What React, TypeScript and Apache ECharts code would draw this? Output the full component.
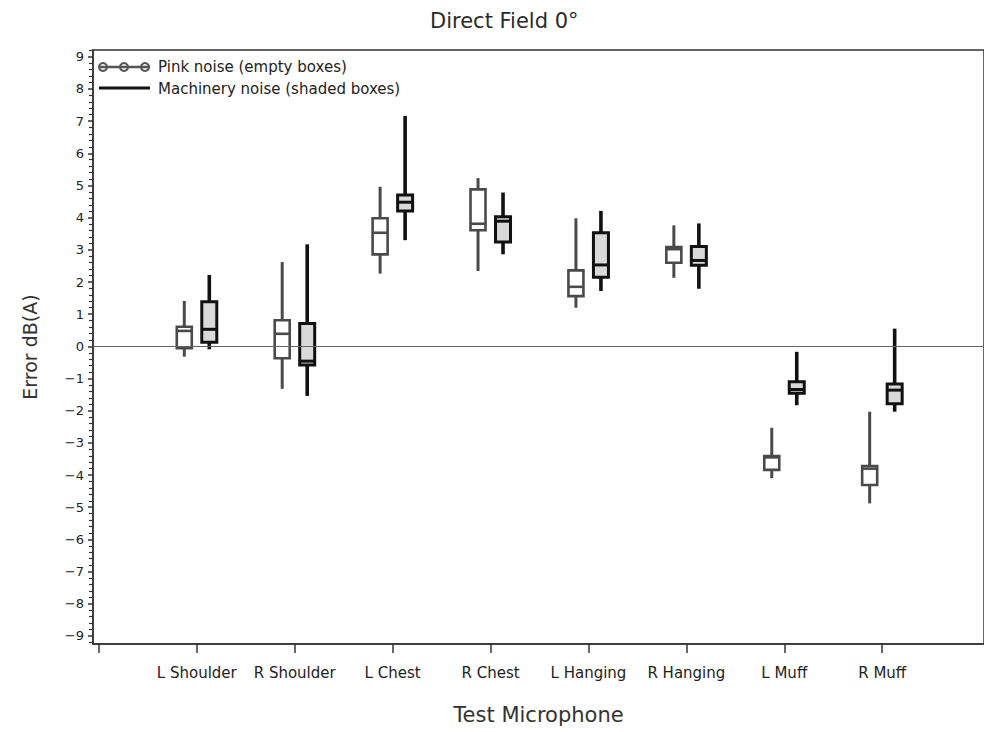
import React, { useEffect, useRef } from "react";
import * as echarts from "echarts";

const categories = ["L Shoulder", "R Shoulder", "L Chest", "R Chest", "L Hanging", "R Hanging", "L Muff", "R Muff"];

// [min, q1, median, q3, max]
const pinkNoise = [
  [-0.32, -0.06, 0.48, 0.61, 1.41],
  [-1.32, -0.37, 0.39, 0.81, 2.62],
  [2.26, 2.86, 3.53, 3.98, 4.96],
  [2.34, 3.61, 3.81, 4.88, 5.23],
  [1.2, 1.56, 1.85, 2.36, 3.98],
  [2.13, 2.6, 3.02, 3.09, 3.76],
  [-4.1, -3.84, -3.45, -3.41, -2.53],
  [-4.88, -4.31, -3.8, -3.72, -2.03],
];

const machineryNoise = [
  [-0.09, 0.13, 0.53, 1.39, 2.22],
  [-1.54, -0.58, -0.46, 0.71, 3.17],
  [3.3, 4.21, 4.48, 4.7, 7.16],
  [2.86, 3.24, 3.89, 4.03, 4.78],
  [1.72, 2.15, 2.53, 3.53, 4.21],
  [1.79, 2.52, 2.67, 3.1, 3.82],
  [-1.83, -1.46, -1.34, -1.1, -0.17],
  [-2.03, -1.78, -1.36, -1.17, 0.55],
];

const yMajorTicks = [-9, -8, -7, -6, -5, -4, -3, -2, -1, 0, 1, 2, 3, 4, 5, 6, 7, 8, 9];
const xTicks = [0, 1, 2, 3, 4, 5, 6, 7, 8];
const xLabelValues = [1, 2, 3, 4, 5, 6, 7, 8];

const FONT = "'DejaVu Sans', 'Liberation Sans', Arial, sans-serif";

function makeRender(offset: number, stroke: string, fill: string, boxLW: number, whiskerLW: number) {
  return (params: any, api: any) => {
    const x = api.value(0);
    const pMin = api.coord([x, api.value(1)]);
    const pQ1 = api.coord([x, api.value(2)]);
    const pMed = api.coord([x, api.value(3)]);
    const pQ3 = api.coord([x, api.value(4)]);
    const pMax = api.coord([x, api.value(5)]);
    const cx = pMin[0] + offset;
    const half = 7.5;
    return {
      type: "group",
      children: [
        {
          type: "line",
          shape: { x1: cx, y1: pMin[1], x2: cx, y2: pQ1[1] },
          style: { stroke, lineWidth: whiskerLW },
        },
        {
          type: "line",
          shape: { x1: cx, y1: pQ3[1], x2: cx, y2: pMax[1] },
          style: { stroke, lineWidth: whiskerLW },
        },
        {
          type: "rect",
          shape: { x: cx - half, y: pQ3[1], width: half * 2, height: pQ1[1] - pQ3[1] },
          style: { stroke, lineWidth: boxLW, fill },
        },
        {
          type: "line",
          shape: { x1: cx - half, y1: pMed[1], x2: cx + half, y2: pMed[1] },
          style: { stroke, lineWidth: boxLW },
        },
      ],
    };
  };
}

export default function App() {
  const ref = useRef<HTMLDivElement>(null);

  useEffect(() => {
    if (!ref.current) return;
    const chart = echarts.init(ref.current, undefined, { renderer: "svg" });

    const pinkData = pinkNoise.map((d, i) => [i + 1, ...d]);
    const machData = machineryNoise.map((d, i) => [i + 1, ...d]);

    const minorTicks: number[] = [];
    for (let k = -46; k <= 46; k++) {
      if (k % 5 !== 0) minorTicks.push(k / 5);
    }

    const option: any = {
      animation: false,
      backgroundColor: "#ffffff",
      textStyle: { fontFamily: FONT },
      title: {
        text: "Direct Field 0°",
        left: 425,
        top: 5,
        textStyle: { fontFamily: FONT, fontSize: 21, fontWeight: "normal", color: "#2a2a2a" },
      },
      grid: {
        left: 93,
        top: 50,
        bottom: 88,
        right: -5,
        show: true,
        borderColor: "#333",
        borderWidth: 1.5,
        backgroundColor: "transparent",
      },
      xAxis: {
        type: "value",
        min: -0.06,
        max: 9.04,
        name: "Test Microphone",
        nameLocation: "middle",
        nameGap: 60,
        nameTextStyle: { fontFamily: FONT, fontSize: 21, color: "#333" },
        axisLine: { show: true, onZero: false, lineStyle: { color: "#333", width: 1.5 } },
        axisTick: { show: true, customValues: xTicks, length: 9, inside: false, lineStyle: { color: "#333", width: 1.5 } },
        axisLabel: {
          customValues: xLabelValues,
          formatter: (v: number) => categories[Math.round(v) - 1] || "",
          margin: 21,
          fontSize: 15,
          color: "#222",
          fontFamily: FONT,
        },
        splitLine: { show: false },
      },
      yAxis: [
        {
          type: "value",
          min: -9.25,
          max: 9.21,
          position: "left",
          name: "Error dB(A)",
          nameLocation: "middle",
          nameRotate: 90,
          nameGap: 54,
          nameTextStyle: { fontFamily: FONT, fontSize: 19, color: "#333" },
          axisLine: { show: true, onZero: false, lineStyle: { color: "#333", width: 1.5 } },
          axisTick: { show: true, customValues: yMajorTicks, length: 5, inside: false, lineStyle: { color: "#333", width: 1.5 } },
          axisLabel: {
            customValues: yMajorTicks,
            formatter: (v: number) => (v < 0 ? "\u2212" + Math.abs(v) : String(v)),
            margin: 9,
            fontSize: 13,
            color: "#222",
            fontFamily: FONT,
          },
          splitLine: { show: false },
        },
        {
          type: "value",
          min: -9.25,
          max: 9.21,
          position: "left",
          axisLine: { show: false, onZero: false },
          axisTick: { show: true, customValues: minorTicks, length: 4, inside: false, lineStyle: { color: "#333", width: 1.2 } },
          axisLabel: { show: false },
          splitLine: { show: false },
        },
      ],
      graphic: [
        { type: "line", shape: { x1: 99, y1: 67, x2: 150, y2: 67 }, style: { stroke: "#555", lineWidth: 2.5 }, z: 10 },
        { type: "circle", shape: { cx: 103, cy: 67, r: 4 }, style: { stroke: "#555", lineWidth: 2, fill: "none" }, z: 10 },
        { type: "circle", shape: { cx: 124, cy: 67, r: 4 }, style: { stroke: "#555", lineWidth: 2, fill: "none" }, z: 10 },
        { type: "circle", shape: { cx: 145, cy: 67, r: 4 }, style: { stroke: "#555", lineWidth: 2, fill: "none" }, z: 10 },
        {
          type: "text",
          x: 158,
          y: 67,
          style: { text: "Pink noise (empty boxes)", font: `15px ${FONT}`, fill: "#222", textVerticalAlign: "middle", verticalAlign: "middle" },
          z: 10,
        },
        { type: "line", shape: { x1: 99, y1: 88, x2: 150, y2: 88 }, style: { stroke: "#111", lineWidth: 3 }, z: 10 },
        {
          type: "text",
          x: 158,
          y: 89,
          style: { text: "Machinery noise (shaded boxes)", font: `15px ${FONT}`, fill: "#222", textVerticalAlign: "middle", verticalAlign: "middle" },
          z: 10,
        },
      ],
      series: [
        {
          type: "line",
          data: [],
          z: 1,
          markLine: {
            silent: true,
            symbol: "none",
            label: { show: false },
            lineStyle: { color: "#666", width: 1.2, type: "solid" },
            data: [{ yAxis: 0 }],
          },
        },
        {
          name: "Pink noise (empty boxes)",
          type: "custom",
          z: 3,
          renderItem: makeRender(-12.5, "#4a4a4a", "none", 2.6, 3),
          encode: { x: 0, y: [1, 2, 3, 4, 5] },
          data: pinkData,
        },
        {
          name: "Machinery noise (shaded boxes)",
          type: "custom",
          z: 3,
          renderItem: makeRender(12.5, "#111111", "#d9d9d9", 3, 3.6),
          encode: { x: 0, y: [1, 2, 3, 4, 5] },
          data: machData,
        },
      ],
    };

    chart.setOption(option);
    return () => chart.dispose();
  }, []);

  return <div ref={ref} style={{ position: "fixed", left: 0, top: 0, width: 984, height: 732 }} />;
}
